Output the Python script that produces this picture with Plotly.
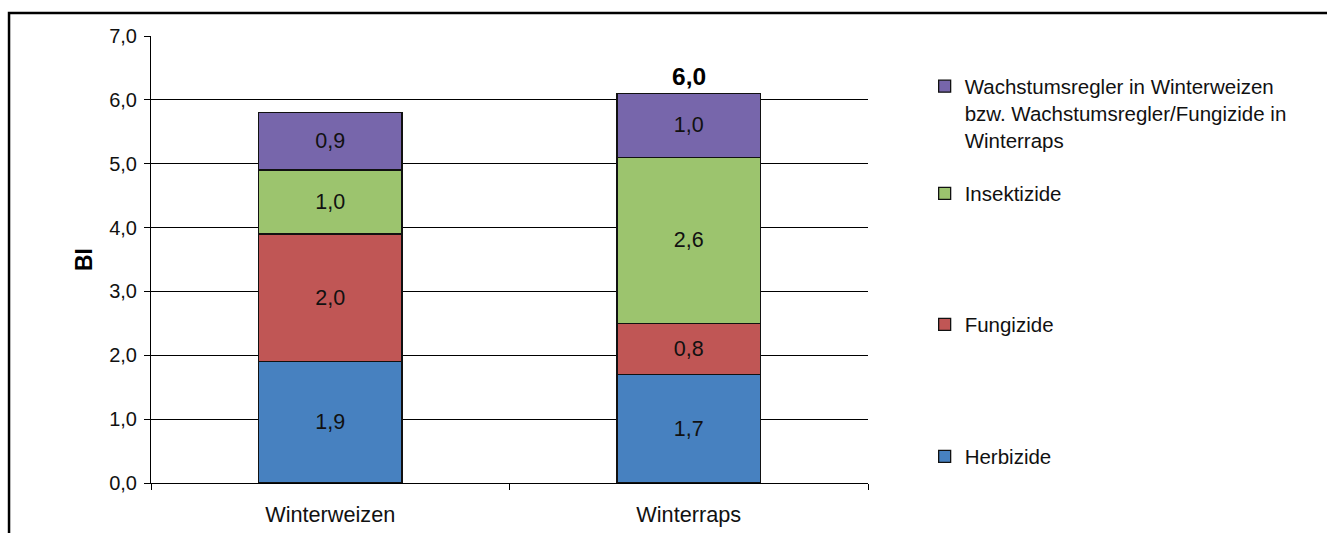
import plotly.graph_objects as go

# Behandlungsindex (BI) nach Kultur und Mittelgruppe
crops = ["Winterweizen", "Winterraps"]
herbizide = [1.9, 1.7]
fungizide = [2.0, 0.8]
insektizide = [1.0, 2.6]
wachstumsregler = [0.9, 1.0]
total_labels = ["", "6,0"]

# Name, Werte, Farbe, Legendenposition (y im Papierkoordinatensystem)
series = [
    ("Herbizide", herbizide, "#4781C0", 0.104),
    ("Fungizide", fungizide, "#C05655", 0.399),
    ("Insektizide", insektizide, "#9CC46E", 0.6925),
    ("Wachstumsregler in Winterweizen<br>bzw. Wachstumsregler/Fungizide in<br>Winterraps",
     wachstumsregler, "#7766AB", 0.932),
]

FONT = "Liberation Sans, Arial, sans-serif"
LEGEND_X = 1.079

fig = go.Figure()
legend_layout = {}
for i, (name, vals, color, ly) in enumerate(series):
    key = "legend" if i == 0 else f"legend{i + 1}"
    fig.add_trace(go.Bar(
        x=crops, y=vals, name=name, legend=key,
        marker=dict(color=color, line=dict(color="#111111", width=1.3)),
        text=[f"{v:.1f}".replace(".", ",") for v in vals],
        textposition="inside", insidetextanchor="middle",
        textfont=dict(family=FONT, size=21.5, color="#111111"),
        width=0.4, hoverinfo="skip",
    ))
    legend_layout[key] = dict(
        x=LEGEND_X, y=ly, xanchor="left", yanchor="top", valign="top",
        font=dict(family=FONT, size=20.5, color="#111111"),
        itemwidth=30, bgcolor="rgba(0,0,0,0)",
    )

# Summenbeschriftung über den Säulen
stack_tops = [sum(s[1][k] for s in series) for k in range(len(crops))]
for crop, top, lab in zip(crops, stack_tops, total_labels):
    if lab:
        fig.add_annotation(x=crop, y=top, text=f"<b>{lab}</b>", showarrow=False,
                           yanchor="bottom", yshift=1,
                           font=dict(family=FONT, size=24.5, color="#000000"))

# Rahmen um die Grafik
fig.add_shape(type="rect", xref="paper", yref="paper",
              x0=-0.198, x1=1.66, y0=-0.2, y1=1.0515,
              line=dict(color="#000000", width=2.5), layer="above")

fig.update_layout(
    barmode="stack",
    width=1327, height=533,
    margin=dict(l=151, r=459, t=36, b=50, pad=0, autoexpand=False),
    paper_bgcolor="white", plot_bgcolor="white",
    separators=",.",
    font=dict(family=FONT, color="#000000"),
    showlegend=True,
    xaxis=dict(
        showline=True, linecolor="#000000", linewidth=1,
        ticks="outside", tickson="boundaries", ticklen=6, tickcolor="#000000",
        tickfont=dict(family=FONT, size=21.7, color="#111111"),
        ticklabelstandoff=12, automargin=False,
        showgrid=False,
    ),
    yaxis=dict(
        range=[0, 7], dtick=1, tickformat=".1f",
        showline=True, linecolor="#000000", linewidth=1,
        ticks="outside", ticklen=6, tickcolor="#000000",
        showgrid=True, gridcolor="#000000", gridwidth=1,
        tickfont=dict(family=FONT, size=20, color="#111111"),
        ticklabelstandoff=3, automargin=False,
        title=dict(text="<b>BI</b>", font=dict(family=FONT, size=23, color="#000000"),
                   standoff=10),
        zeroline=False,
    ),
    bargap=0.6,
    **legend_layout,
)

fig.write_html("out.html")
